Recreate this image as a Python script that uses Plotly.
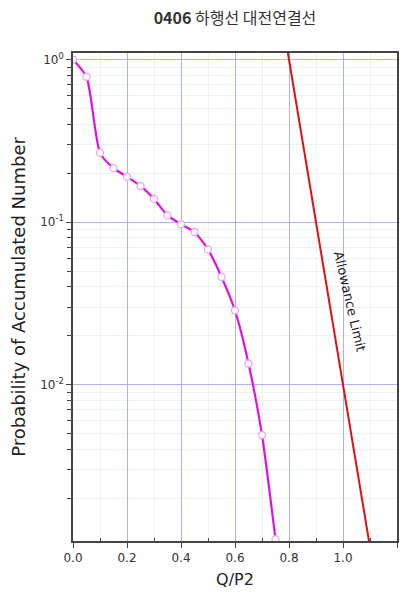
import plotly.graph_objects as go

# Measured curve
q_p2 = [0.0, 0.05, 0.10, 0.15, 0.20, 0.25, 0.30, 0.35, 0.40, 0.45, 0.50, 0.55, 0.60, 0.65, 0.70, 0.75]
prob = [1.0, 0.785, 0.267, 0.215, 0.19, 0.167, 0.139, 0.11, 0.097, 0.087, 0.068, 0.046, 0.0286, 0.0135, 0.0049, 0.00112]

# Allowance limit line
limit_x = [0.79, 1.10]
limit_y = [1.26, 0.001]

x_ticks = [0.0, 0.2, 0.4, 0.6, 0.8, 1.0, 1.2]
x_tick_labels = ["0.0", "0.2", "0.4", "0.6", "0.8", "1.0", "1.2"]
x_minor = [0.1, 0.3, 0.5, 0.7, 0.9, 1.1]
y_ticks = [1.0, 0.1, 0.01]
y_tick_labels = ["10<sup>0</sup>", "10<sup>-1</sup>", "10<sup>-2</sup>"]
y_minor = [k * 10.0 ** e for e in (-3, -2, -1) for k in range(2, 10)]

title_text = "<b>0406</b> 하행선 대전연결선"
x_title = "Q/P2"
y_title = "Probability of Accumulated Number"
limit_label = "Allowance Limit"

FONT = "DejaVu Sans, Liberation Sans, Arial"

fig = go.Figure()
fig.add_trace(go.Scatter(
    x=limit_x, y=limit_y, mode="lines",
    line=dict(color="#dd1111", width=2), showlegend=False, hoverinfo="skip"))
fig.add_trace(go.Scatter(
    x=q_p2, y=prob, mode="lines+markers",
    line=dict(color="#e010e0", width=2.2, shape="spline", smoothing=0.6),
    marker=dict(symbol="circle", size=7, color="white", line=dict(color="#f0a0f0", width=1.3)),
    showlegend=False))

fig.add_annotation(x=1.026, y=-1.486, xref="x", yref="y", text=limit_label,
                   showarrow=False, textangle=77,
                   font=dict(family=FONT, size=13, color="#222"))

axis_font = dict(family=FONT, size=12, color="#333")
# page body has an 8px default margin, so the figure is sized/offset to compensate
fig.update_layout(
    template="none",
    width=392, height=581,
    margin=dict(l=65, r=3, t=45, b=48),
    paper_bgcolor="white", plot_bgcolor="white",
    title=dict(text=title_text, x=0.5, xref="paper", y=1 - 10.5 / 581, yref="container",
               xanchor="center", yanchor="middle",
               font=dict(family="Noto Sans CJK KR, DejaVu Sans", size=16, color="#333")),
    xaxis=dict(range=[0, 1.2], tickvals=x_ticks, ticktext=x_tick_labels,
               ticks="outside", ticklen=5, tickcolor="#444", tickfont=axis_font,
               showline=True, linecolor="#444", linewidth=1.5, mirror=True,
               showgrid=True, gridcolor="#b0b0f4", gridwidth=1,
               zeroline=False, automargin=False,
               minor=dict(tickmode="array", tickvals=x_minor, ticks="inside", ticklen=3, tickcolor="#444",
                          showgrid=True, gridcolor="#f0f0f0", gridwidth=1),
               title=dict(text=x_title, font=dict(family=FONT, size=16, color="#222"),
                          standoff=14)),
    yaxis=dict(type="log", range=[-2.962, 0.041], tickvals=y_ticks, ticktext=y_tick_labels,
               ticks="outside", ticklen=5, tickcolor="#444", tickfont=axis_font,
               showline=True, linecolor="#444", linewidth=1.5, mirror=True,
               showgrid=True, gridcolor="#b0b0f4", gridwidth=1,
               zeroline=False, automargin=False,
               minor=dict(tickmode="array", tickvals=y_minor, ticks="outside", ticklen=4, tickcolor="#444",
                          showgrid=True, gridcolor="#e8f4e8", gridwidth=1)),
)
fig.update_yaxes(title=dict(text=y_title, font=dict(family=FONT, size=18, color="#222"), standoff=12))

fig.write_html("out.html")
